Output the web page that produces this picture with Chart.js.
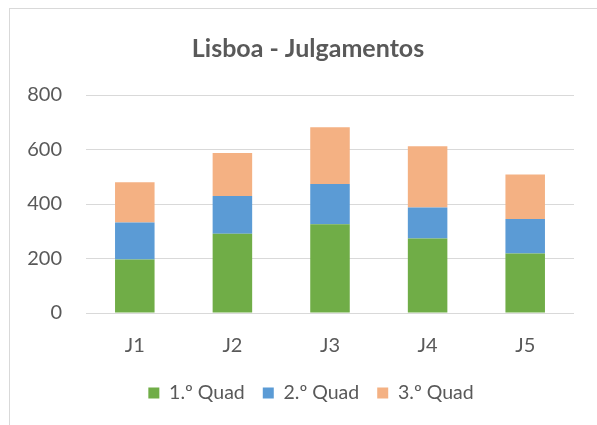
<!DOCTYPE html>
<html>
<head>
<meta charset="utf-8">
<script src="https://cdn.jsdelivr.net/npm/chart.js@4.4.1/dist/chart.umd.min.js"></script>
<style>
    body { margin: 0; background: #ffffff; }
    #wrap { position: relative; width: 597px; height: 425px; overflow: hidden; }
    #frame { position: absolute; left: 9px; top: 8px; width: 700px; height: 500px; border: 1px solid #d9d9d9; }
    #chart { position: absolute; left: 0; top: 0; }
</style>
</head>
<body>
<div id="wrap">
    <div id="frame"></div>
    <canvas id="chart" width="597" height="425"></canvas>
</div>
<script>
const categories = ["J1", "J2", "J3", "J4", "J5"];
const quad1 = [196, 291, 326, 273, 218];
const quad2 = [136, 138, 147, 114, 127];
const quad3 = [148, 158, 209, 225, 163];
const seriesNames = ["1.º Quad", "2.º Quad", "3.º Quad"];
const chartTitle = "Lisboa - Julgamentos";

const textColor = "#595959";
const gridColor = "#d9d9d9";

// title is centred on the whole frame, not on the plot, so draw it here
const frameTitle = {
    id: "frameTitle",
    afterDraw(chart) {
        const c = chart.ctx;
        c.save();
        c.fillStyle = textColor;
        c.font = "bold 25px Lato";
        c.textAlign = "center";
        c.textBaseline = "alphabetic";
        c.fillText(chartTitle, 308, 56.5);
        c.restore();
    }
};

// legend sits centred on the frame too, nudge it right a bit
const legendShift = {
    id: "legendShift",
    afterLayout(chart) {
        if (!chart.legend) return;
        chart.legend.left += 24;
        chart.legend.right += 24;
    }
};

document.addEventListener("DOMContentLoaded", () => {
    const ctx = document.getElementById("chart").getContext("2d");

    new Chart(ctx, {
        type: "bar",
        data: {
            labels: categories,
            datasets: [
                { label: seriesNames[0], data: quad1, backgroundColor: "#70ad47" },
                { label: seriesNames[1], data: quad2, backgroundColor: "#5b9bd5" },
                { label: seriesNames[2], data: quad3, backgroundColor: "#f4b183" }
            ]
        },
        options: {
            responsive: false,
            animation: false,
            datasets: {
                bar: { categoryPercentage: 1, barPercentage: 0.405 }
            },
            layout: {
                padding: { top: 95, right: 23, bottom: 12.25, left: 0 }
            },
            plugins: {
                legend: {
                    position: "bottom",
                    labels: {
                        color: textColor,
                        font: { family: "Lato", size: 19.5 },
                        boxWidth: 11,
                        boxHeight: 11,
                        padding: 18
                    }
                },
                tooltip: { enabled: false }
            },
            scales: {
                x: {
                    stacked: true,
                    grid: { display: false },
                    border: { display: false },
                    ticks: {
                        color: textColor,
                        font: { family: "Lato", size: 20 },
                        padding: 13
                    },
                    afterFit: (scale) => { scale.height = 52.25; }
                },
                y: {
                    stacked: true,
                    min: 0,
                    max: 800,
                    grid: { color: gridColor, lineWidth: 1, drawTicks: false },
                    border: { display: false },
                    ticks: {
                        stepSize: 200,
                        color: textColor,
                        font: { family: "Lato", size: 20 },
                        padding: 24
                    },
                    afterFit: (scale) => { scale.width = 86; }
                }
            }
        },
        plugins: [frameTitle, legendShift]
    });
});
</script>
</body>
</html>
